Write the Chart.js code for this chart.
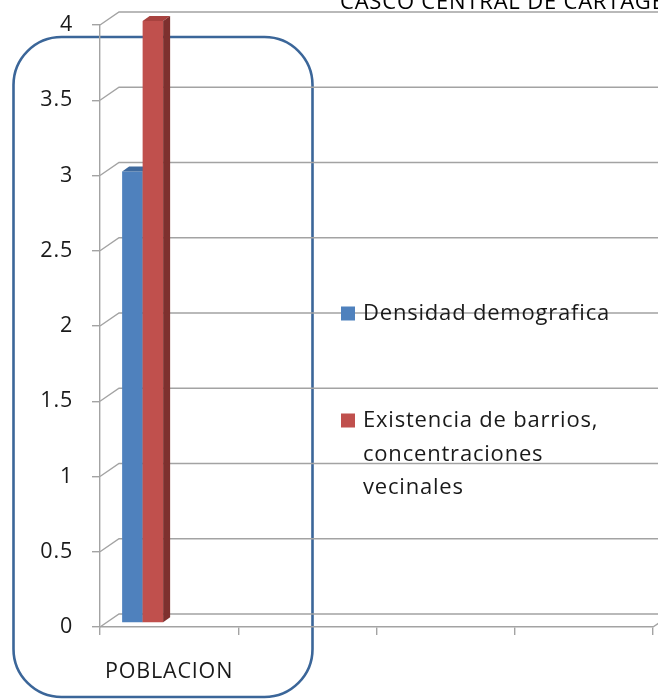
<!DOCTYPE html>
<html>
<head>
<meta charset="utf-8">
<script src="https://cdn.jsdelivr.net/npm/chart.js@4"></script>
<style>
  html, body { margin: 0; padding: 0; background: #ffffff; }
  #wrap { position: relative; width: 658px; height: 699px; overflow: hidden; }
</style>
</head>
<body>
<div id="wrap"><canvas id="chart" width="658" height="699"></canvas></div>
<script>
// ---- data ----
const categories = ['POBLACION', '', '', ''];
const seriesNames = ['Densidad demografica', 'Existencia de barrios, concentraciones vecinales'];
const densidadDemografica = [3, null, null, null];
const existenciaBarrios = [4, null, null, null];
const yTickValues = [0, 0.5, 1, 1.5, 2, 2.5, 3, 3.5, 4];
const yTickLabels = ['0', '0.5', '1', '1.5', '2', '2.5', '3', '3.5', '4'];
const titleText = 'CASCO CENTRAL DE CARTAGENA';

// ---- style ----
const FONT = '"Open Sans", "Noto Sans", sans-serif';
const LETTER_SPACING = '0.8px';
const gridColor = '#a3a3a3';
const frontColors = ['#4f81bd', '#c0504d'];
const topColors = ['#3f6a9e', '#a8423f'];
const sideColors = ['#36597f', '#7e302e'];
const wallDepth = { dx: 19, dy: -13 };   // back wall offset of the 3D box
const barDepth = { dx: 7, dy: -5 };      // thickness of each column
const barShift = { dx: -26.5, dy: -4 };  // columns sit inside the box, behind the front edge

// rounded frame drawn around the first category
function drawFrame(ctx) {
  ctx.save();
  ctx.strokeStyle = '#3b6699';
  ctx.lineWidth = 2.6;
  ctx.beginPath();
  ctx.roundRect(13.5, 37, 299, 660, 48);
  ctx.stroke();
  ctx.restore();
}

const box3d = {
  id: 'box3d',
  beforeDraw(chart) {
    chart.ctx.letterSpacing = LETTER_SPACING;
    drawFrame(chart.ctx);
  },
  beforeDatasetsDraw(chart) {
    const ctx = chart.ctx;
    const area = chart.chartArea;
    const y = chart.scales.y;
    // back wall gridlines with their diagonals to the front axis
    ctx.save();
    ctx.strokeStyle = gridColor;
    ctx.lineWidth = 1.4;
    yTickValues.forEach(v => {
      const py = y.getPixelForValue(v);
      ctx.beginPath();
      ctx.moveTo(area.left, py);
      ctx.lineTo(area.left + wallDepth.dx, py + wallDepth.dy);
      ctx.lineTo(area.right + wallDepth.dx, py + wallDepth.dy);
      ctx.stroke();
    });
    const py0 = y.getPixelForValue(0);
    ctx.beginPath();
    ctx.moveTo(area.right, py0);
    ctx.lineTo(area.right + wallDepth.dx, py0 + wallDepth.dy);
    ctx.stroke();
    ctx.restore();

    // columns, drawn series by series so each front covers the previous side
    chart.data.datasets.forEach((ds, i) => {
      const meta = chart.getDatasetMeta(i);
      ctx.save();
      ctx.translate(barShift.dx, barShift.dy);
      meta.data.forEach((el, j) => {
        if (ds.data[j] == null) return;
        el.draw(ctx);
        const l = el.x - el.width / 2, r = el.x + el.width / 2;
        // top face
        ctx.fillStyle = topColors[i];
        ctx.beginPath();
        ctx.moveTo(l, el.y);
        ctx.lineTo(l + barDepth.dx, el.y + barDepth.dy);
        ctx.lineTo(r + barDepth.dx, el.y + barDepth.dy);
        ctx.lineTo(r, el.y);
        ctx.closePath();
        ctx.fill();
        // side face
        ctx.fillStyle = sideColors[i];
        ctx.beginPath();
        ctx.moveTo(r, el.y);
        ctx.lineTo(r + barDepth.dx, el.y + barDepth.dy);
        ctx.lineTo(r + barDepth.dx, el.base + barDepth.dy);
        ctx.lineTo(r, el.base);
        ctx.closePath();
        ctx.fill();
      });
      ctx.restore();
    });
    return false;
  },
  afterDraw(chart) {
    const ctx = chart.ctx;
    ctx.save();
    ctx.letterSpacing = LETTER_SPACING;
    // title, running past the top edge
    ctx.fillStyle = '#000000';
    ctx.font = '22px ' + FONT;
    ctx.textAlign = 'left';
    ctx.textBaseline = 'alphabetic';
    ctx.fillText(titleText, 340, 9);

    // legend
    ctx.font = '22px ' + FONT;
    const maxW = 256, lineH = 33.5, gap = 73.5;
    let base = 320;
    chart.data.datasets.forEach((ds, i) => {
      const words = ds.label.split(' ');
      const lines = [];
      let cur = '';
      words.forEach(w => {
        const t = cur ? cur + ' ' + w : w;
        if (cur && ctx.measureText(t).width > maxW) { lines.push(cur); cur = w; }
        else cur = t;
      });
      if (cur) lines.push(cur);
      ctx.fillStyle = frontColors[i];
      ctx.fillRect(341, base - 13.5, 14, 14);
      ctx.fillStyle = '#1a1a1a';
      lines.forEach((ln, k) => ctx.fillText(ln, 363, base + k * lineH));
      base += lines.length * lineH + gap;
    });
    ctx.restore();
  }
};

new Chart(document.getElementById('chart'), {
  type: 'bar',
  data: {
    labels: categories,
    datasets: [
      { label: seriesNames[0], data: densidadDemografica, backgroundColor: frontColors[0], borderWidth: 0 },
      { label: seriesNames[1], data: existenciaBarrios, backgroundColor: frontColors[1], borderWidth: 0 }
    ]
  },
  options: {
    responsive: false,
    animation: false,
    devicePixelRatio: 1,
    categoryPercentage: 0.2966,
    barPercentage: 1,
    layout: { padding: { top: 25, right: 5, left: 0, bottom: 0 } },
    plugins: {
      legend: { display: false },
      title: { display: false },
      tooltip: { enabled: false }
    },
    scales: {
      x: {
        type: 'category',
        grid: { offset: true, drawOnChartArea: false, drawTicks: true, tickLength: 8, color: gridColor, lineWidth: 1.4 },
        border: { display: true, color: gridColor, width: 1.4 },
        ticks: { autoSkip: false, maxRotation: 0, padding: 24, color: '#1a1a1a', font: { family: FONT, size: 21.5 } },
        afterFit(scale) { scale.height = 72; scale.paddingLeft = 0; scale.paddingRight = 0; }
      },
      y: {
        min: 0,
        max: 4,
        afterBuildTicks(scale) { scale.ticks = yTickValues.map(v => ({ value: v })); },
        grid: { drawOnChartArea: false, drawTicks: true, tickLength: 8, color: gridColor, lineWidth: 1.4 },
        border: { display: true, color: gridColor, width: 1.4 },
        ticks: { padding: 19, color: '#1a1a1a', font: { family: FONT, size: 21.5 }, callback: (v, i) => yTickLabels[i] },
        afterFit(scale) { scale.width = 100; scale.paddingTop = 0; scale.paddingBottom = 0; }
      }
    }
  },
  plugins: [box3d]
});
</script>
</body>
</html>
